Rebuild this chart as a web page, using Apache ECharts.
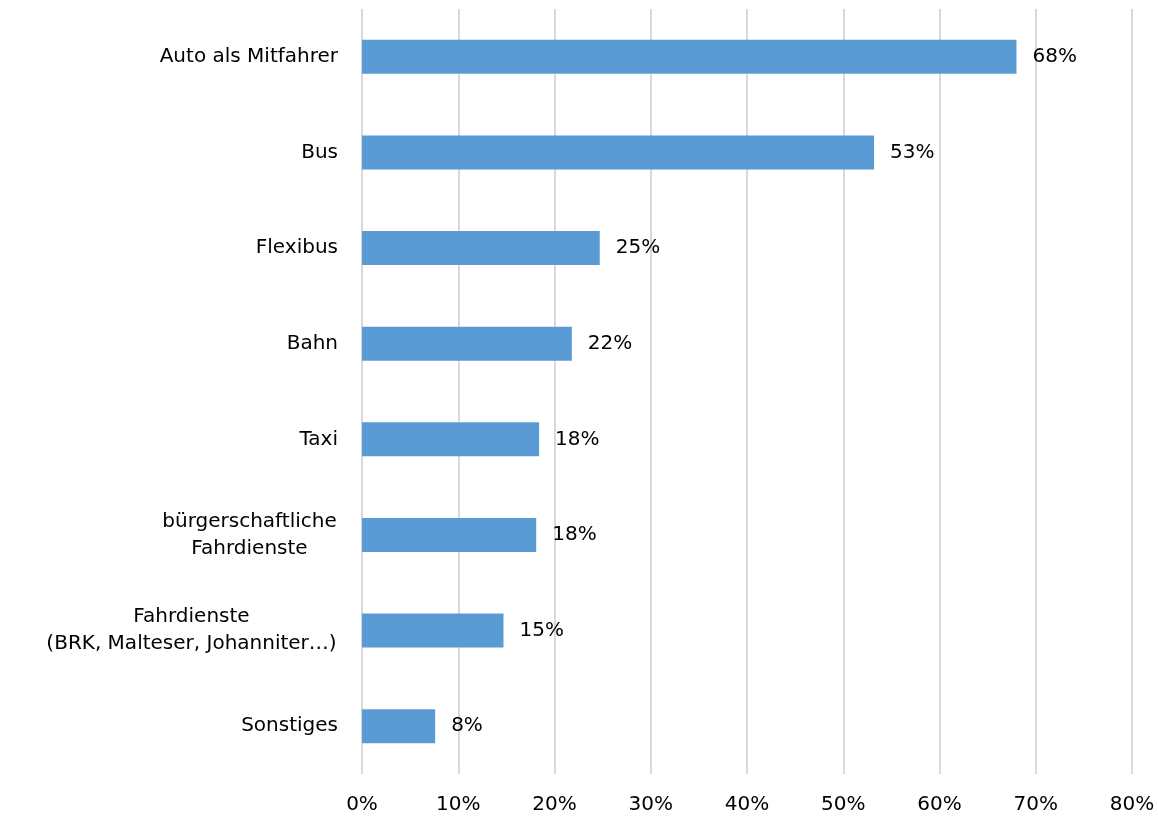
<!DOCTYPE html>
<html>
<head>
<meta charset="utf-8">
<script src="https://cdn.jsdelivr.net/npm/echarts@6/dist/echarts.min.js"></script>
<style>
  html, body { margin: 0; padding: 0; background: #fff; }
  #chart { width: 1158px; height: 819px; }
</style>
</head>
<body>
<div id="chart"></div>
<script>
// Kategorien von oben nach unten
var categories = [
  'Auto als Mitfahrer',
  'Bus',
  'Flexibus',
  'Bahn',
  'Taxi',
  'bürgerschaftliche\nFahrdienste',
  'Fahrdienste\n(BRK, Malteser, Johanniter…)',
  'Sonstiges'
];
// Anteile in Prozent
var shares = [68.0, 53.2, 24.7, 21.8, 18.4, 18.1, 14.7, 7.6];
var tickLabels = ['0%', '10%', '20%', '30%', '40%', '50%', '60%', '70%', '80%'];

var fontFamily = '"DejaVu Sans", sans-serif';
var fontSize = 20;

// mehrzeilige Beschriftungen zentriert innerhalb ihres Blocks
var ctx = document.createElement('canvas').getContext('2d');
ctx.font = fontSize + 'px ' + fontFamily;
var rich = {};
var labelText = {};
categories.forEach(function (c, i) {
  var lines = c.split('\n');
  if (lines.length < 2) { labelText[c] = c; return; }
  var w = Math.max.apply(null, lines.map(function (l) { return ctx.measureText(l).width; }));
  var key = 'm' + i;
  rich[key] = { width: Math.ceil(w) + 2, align: 'center', fontFamily: fontFamily, fontSize: fontSize, lineHeight: 27, color: '#000' };
  labelText[c] = lines.map(function (l) { return '{' + key + '|' + l + '}'; }).join('\n');
});

var chart = echarts.init(document.getElementById('chart'));

chart.setOption({
  animation: false,
  grid: { left: 362, right: 26, top: 9, bottom: 45, containLabel: false },
  xAxis: {
    type: 'value',
    min: 0,
    max: 80,
    interval: 10,
    axisLine: { show: false },
    axisTick: { show: false },
    splitLine: { show: true, lineStyle: { color: '#d9d9d9', width: 2 } },
    axisLabel: {
      margin: 21,
      color: '#000',
      fontFamily: fontFamily,
      fontSize: fontSize,
      formatter: function (v) { return tickLabels[v / 10]; }
    }
  },
  yAxis: {
    type: 'category',
    inverse: true,
    data: categories,
    axisLine: { show: false },
    axisTick: { show: false },
    axisLabel: {
      margin: 24,
      color: '#000',
      fontFamily: fontFamily,
      fontSize: fontSize,
      lineHeight: 27,
      align: 'right',
      rich: rich,
      formatter: function (v) { return labelText[v]; }
    }
  },
  series: [{
    type: 'bar',
    data: shares,
    barWidth: 34,
    itemStyle: { color: '#5b9bd5' },
    label: {
      show: true,
      position: 'right',
      distance: 16,
      color: '#000',
      fontFamily: fontFamily,
      fontSize: fontSize,
      formatter: function (p) { return Math.round(p.value) + '%'; }
    }
  }]
});
</script>
</body>
</html>
